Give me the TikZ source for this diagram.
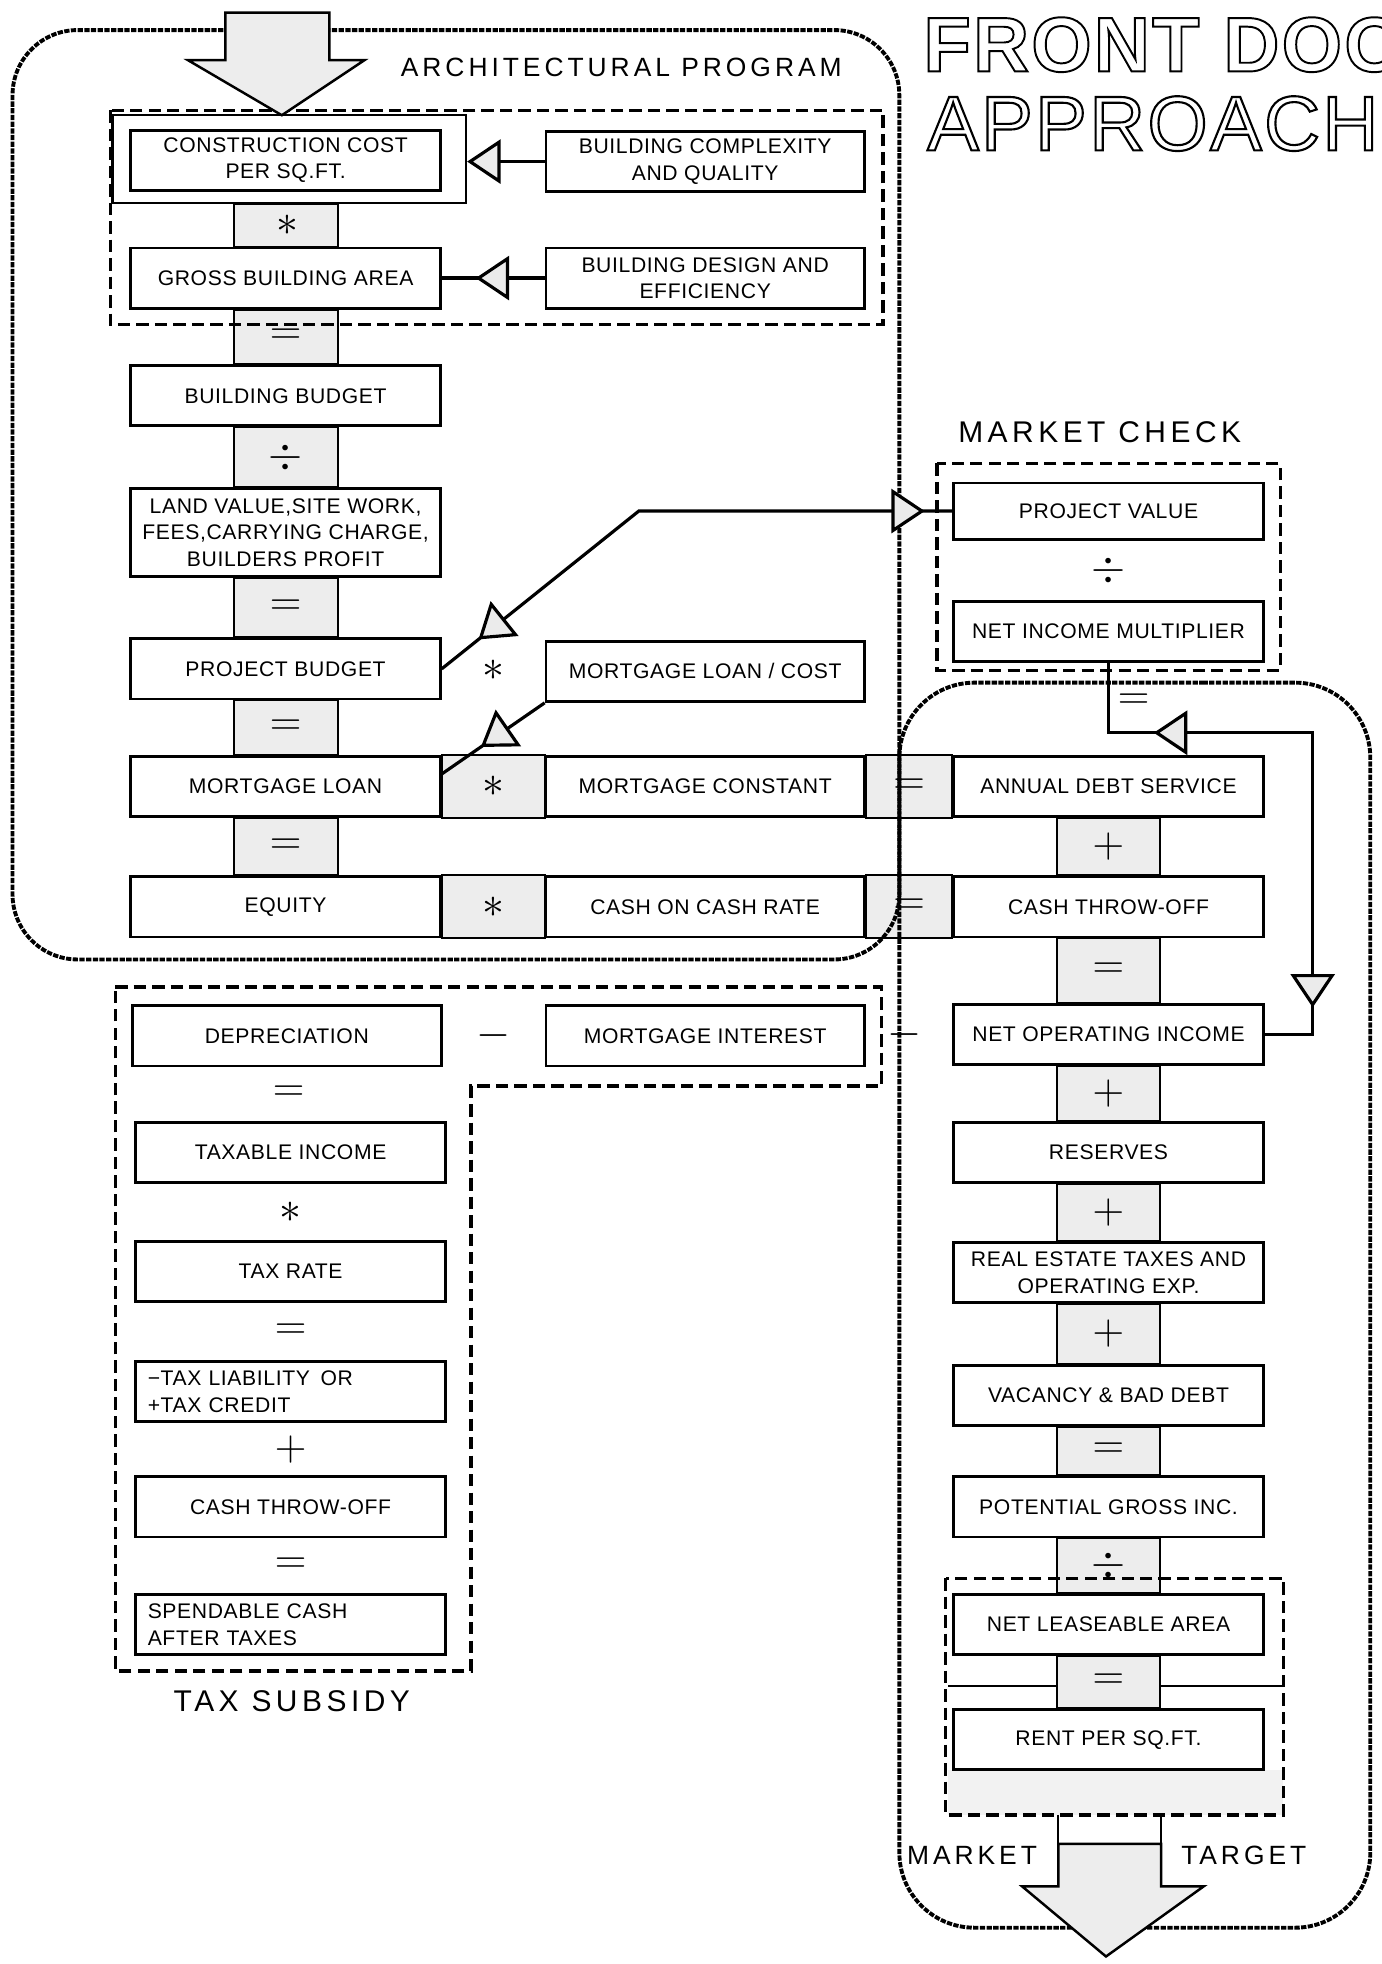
\documentclass[tikz,border=0pt]{standalone}
\usepackage{fontspec}
\setmainfont{Liberation Sans}
\newfontfamily\boxfont{Liberation Sans}[LetterSpace=3]
\newfontfamily\labfont{Liberation Sans}[LetterSpace=15]
\newfontfamily\headfont{Liberation Sans}[LetterSpace=3]
\usetikzlibrary{arrows.meta, decorations.markings, fit, calc, backgrounds, positioning}

\tikzset{
  bigtri/.tip={Triangle[length=19pt, width=25pt, fill=black!8]},
  cbox/.style={draw, line width=1.6pt, minimum width=6.175cm, minimum height=1.2cm,
    inner sep=1pt, align=center, font=\boxfont\fontsize{12}{15}\selectfont},
  wbox/.style={cbox, minimum width=6.35cm},
  lbox/.style={cbox, align=left, text width=5.7cm},
  opcell/.style={draw, line width=1.2pt, fill=black!7},
  opsym/.style={inner sep=0pt, font=\fontsize{24}{24}\selectfont},
  lab/.style={inner sep=0pt, font=\labfont\fontsize{#1}{#1}\selectfont},
  zone/.style={line width=1.8pt, dash pattern=on 7pt off 3.5pt},
  frame/.style={line width=2.2pt, dash pattern=on 3pt off 0.8pt, rounded corners=#1},
  link/.style={line width=1.8pt},
  bigarrow/.style={draw, line width=1.4pt, fill=black!7, line join=miter},
  midtip/.style={postaction={decorate, decoration={markings,
    mark=at position #1 with {\arrow{bigtri}}}}},
  backtip/.style={postaction={decorate, decoration={markings,
    mark=at position #1 with {\arrowreversed{bigtri}}}}},
}

\begin{document}
\begin{tikzpicture}[x=0.025cm, y=-0.025cm]
\useasboundingbox (0,0) rectangle (1103,1568);

% title
\node[anchor=base west, inner sep=0pt, font=\headfont\bfseries\fontsize{44}{44}\selectfont] (head1) at (737,57)
  {\special{pdf:literal direct 1 Tr 1.1 w}FRONT DOOR\special{pdf:literal direct 0 Tr}};
\node[anchor=base west, inner sep=0pt, font=\headfont\fontsize{44}{44}\selectfont] (head2) at (740,120)
  {\special{pdf:literal direct 1 Tr 1.2 w}APPROACH\special{pdf:literal direct 0 Tr}};

% labels
\node[lab=15] (arch) at (496,54) {ARCHITECTURAL PROGRAM};
\node[lab=17] (mchk) at (878,345) {MARKET CHECK};
\node[lab=17] (tsub) at (233,1358) {TAX SUBSIDY};
\node[lab=15] (mkt) at (776,1481) {MARKET};
\node[lab=15] (tgt) at (993,1481) {TARGET};

% architectural program
\node[cbox] (cc) at (228,128) {CONSTRUCTION COST\\PER SQ.FT.};
\node[wbox] (bcq) at (563,129) {BUILDING COMPLEXITY\\AND QUALITY};
\node[cbox] (gba) at (228,222) {GROSS BUILDING AREA};
\node[wbox] (bde) at (563,222) {BUILDING DESIGN AND\\EFFICIENCY};
\node[cbox] (bb) at (228,316) {BUILDING BUDGET};
\node[cbox, minimum height=1.75cm] (lv) at (228,425) {LAND VALUE,SITE WORK,\\FEES,CARRYING CHARGE,\\BUILDERS PROFIT};
\node[cbox] (pb) at (228,534) {PROJECT BUDGET};
\node[wbox] (mlc) at (563,536) {MORTGAGE LOAN / COST};
\node[cbox] (ml) at (228,628) {MORTGAGE LOAN};
\node[wbox] (mc) at (563,628) {MORTGAGE CONSTANT};
\node[cbox] (eq) at (228,724) {EQUITY};
\node[wbox] (ccr) at (563,724) {CASH ON CASH RATE};
\node[draw, line width=1.4pt, inner sep=0pt, fit={(90,92) (372,162)}] (cce) {};

% market check and market target
\node[cbox, minimum height=1.12cm] (pv) at (885,408) {PROJECT VALUE};
\node[cbox] (nim) at (885,504) {NET INCOME MULTIPLIER};
\node[cbox] (ads) at (885,628) {ANNUAL DEBT SERVICE};
\node[cbox] (cto) at (885,724) {CASH THROW-OFF};
\node[cbox] (noi) at (885,826) {NET OPERATING INCOME};
\node[cbox] (res) at (885,920) {RESERVES};
\node[cbox] (ret) at (885,1016) {REAL ESTATE TAXES AND\\OPERATING EXP.};
\node[cbox] (vac) at (885,1114) {VACANCY \& BAD DEBT};
\node[cbox] (pgi) at (885,1203) {POTENTIAL GROSS INC.};
\node[cbox] (nla) at (885,1297) {NET LEASEABLE AREA};
\node[cbox] (rent) at (885,1389) {RENT PER SQ.FT.};

% tax subsidy
\node[cbox] (dep) at (229,827) {DEPRECIATION};
\node[wbox] (mi) at (563,827) {MORTGAGE INTEREST};
\node[cbox] (ti) at (232,920) {TAXABLE INCOME};
\node[cbox] (tr) at (232,1015) {TAX RATE};
\node[lbox] (tl) at (232,1111) {−TAX LIABILITY\enspace OR\\+TAX CREDIT};
\node[cbox] (cto2) at (232,1203) {CASH THROW-OFF};
\node[lbox] (sc) at (232,1297) {SPENDABLE CASH\\AFTER TAXES};

% operator cells
\begin{pgfonlayer}{background}
  \foreach \a/\b in {cce/gba, gba/bb, bb/lv, lv/pb, pb/ml, ml/eq}
    \draw[opcell] ($(\b.north |- \a.south)+(-41.5,0)$) rectangle ($(\b.north)+(41.5,0)$);
  \foreach \a/\b in {ads/cto, cto/noi, noi/res, res/ret, ret/vac, vac/pgi, pgi/nla, nla/rent}
    \draw[opcell] ($(\b.north |- \a.south)+(-41,0)$) rectangle ($(\b.north)+(41,0)$);
  \draw[opcell] (ml.north east) rectangle (mc.south west);
  \draw[opcell] (mc.north east) rectangle (ads.south west);
  \draw[opcell] (eq.north east) rectangle (ccr.south west);
  \draw[opcell] (ccr.north east) rectangle (cto.south west);
  \fill[black!5] (757,1413) rectangle (1024,1449);
\end{pgfonlayer}

\foreach \a/\b/\s in {cce/gba/\ast, gba/bb/=, bb/lv/\div, lv/pb/=, pb/ml/=, ml/eq/=,
    ads/cto/+, cto/noi/=, noi/res/+, res/ret/+, ret/vac/+, vac/pgi/=, pgi/nla/\div, nla/rent/=,
    dep/ti/=, ti/tr/\ast, tr/tl/=, tl/cto2/+, cto2/sc/=, pv/nim/\div}
  \node[opsym] (op-\a) at ($(\a.south)!0.5!(\b.north)$) {$\s$};
\node[opsym] (op-ml) at ($(ml.east)!0.5!(mc.west)$) {$\ast$};
\node[opsym] (op-mc) at ($(mc.east)!0.5!(ads.west)$) {$=$};
\node[opsym] (op-eq) at ($(eq.east)!0.5!(ccr.west)$) {$\ast$};
\node[opsym] (op-ccr) at ($(ccr.east)!0.5!(cto.west)$) {$=$};
\node[opsym] (op-pb) at ($(pb.east)!0.5!(mlc.west)$) {$\ast$};
\node[opsym] (op-nim) at (905,560) {$=$};
\node[opsym] (op-dep) at ($(dep.east)!0.5!(mi.west)$) {$-$};
\node[opsym] (op-mi) at (722,826) {$-$};

% dashed groups
\draw[zone] (88,88) rectangle (705,259);
\draw[zone] (748,370) rectangle (1022,535);
\draw[zone] (755,1260) rectangle (1025,1449);
\draw[zone] (92,788) -- (704,788) -- (704,867) -- (376,867) -- (376,1334) -- (92,1334) -- cycle;
\draw[line width=1.4pt] (757,1346) -- (845,1346) (927,1346) -- (1024,1346);

% outer loops
\draw[frame=1.3cm] (400,24) -- (718,24) -- (718,766) -- (10,766) -- (10,24) -- cycle;
\draw[frame=1.5cm] (900,545) -- (1094,545) -- (1094,1539) -- (718,1539) -- (718,545) -- cycle;

% entry and exit
\draw[bigarrow] (180,10) -- (263,10) -- (263,48) -- (291,48) -- (225,92) -- (150,48) -- (180,48) -- cycle;
\draw[line width=1.2pt] (845,1449) -- (845,1472) (927,1449) -- (927,1472);
\draw[bigarrow] (845,1472) -- (927,1472) -- (927,1506) -- (961,1506) -- (883,1562) -- (816,1506) -- (845,1506) -- cycle;

% connectors
\draw[link, -{bigtri}] (bcq.west) -- (bcq.west -| cce.east);
\draw[link, midtip=0.67] (bde.west) -- (gba.east);
\draw[link, backtip=0.94cm, midtip=-0.55cm] (pb.east) -- (510,408) -- (pv.west);
\draw[link, midtip=0.62] (mlc.south west) -- ($(ml.north east)!0.3!(ml.south east)$);
\draw[link, backtip=2.3cm, midtip=-1.5cm] (nim.south) -- (885,585) -- (1048,585) -- (1048,826) -- (noi.east);
\end{tikzpicture}
\end{document}
